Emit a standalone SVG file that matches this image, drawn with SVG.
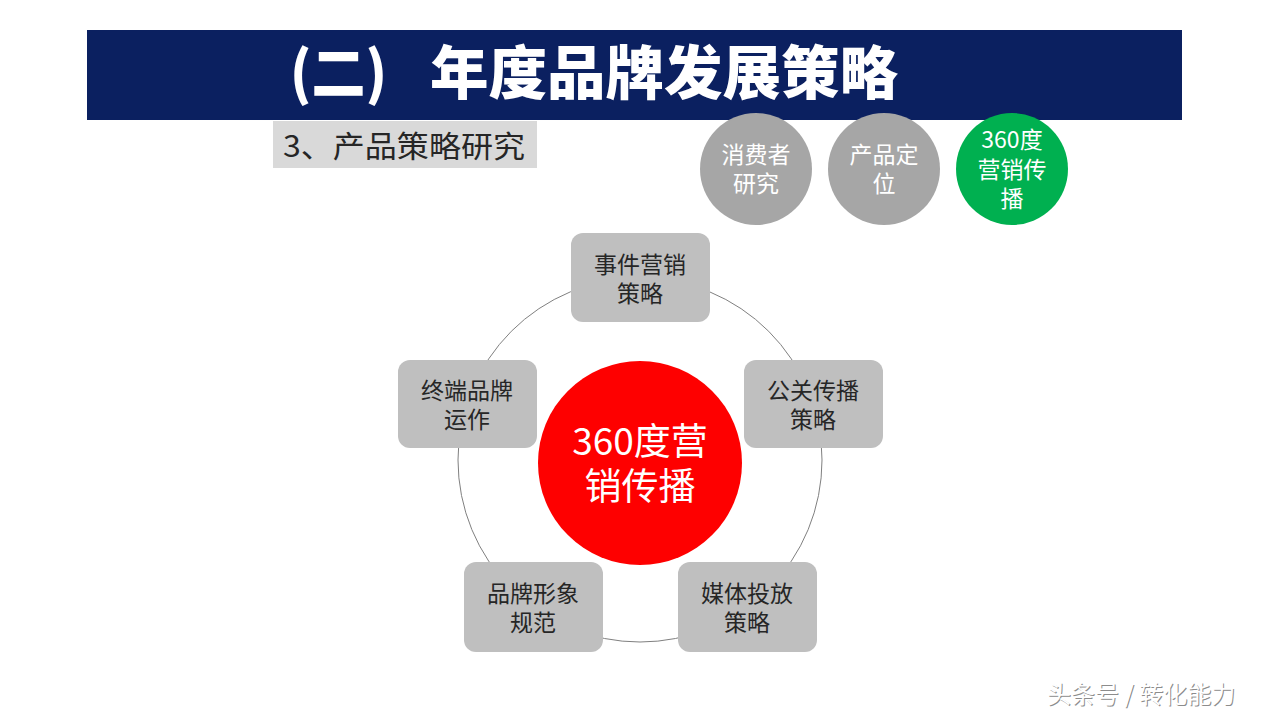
<svg xmlns="http://www.w3.org/2000/svg" width="1280" height="720" viewBox="0 0 1280 720">
<style>
.cjk{font-family:"Noto Sans CJK SC","Liberation Sans",sans-serif}
.box{fill:#bfbfbf}
.bt{font-size:23px;fill:#262626;text-anchor:middle}
.ct{font-size:23px;fill:#ffffff;text-anchor:middle}
.tt{font-size:58px;font-weight:900;fill:#ffffff}
</style>
<rect width="1280" height="720" fill="#ffffff"/>
<g id="header">
<rect x="87" y="30" width="1095" height="90" fill="#0b2060"/>
<text class="cjk tt" x="290" y="94" textLength="97" lengthAdjust="spacingAndGlyphs">(二)</text>
<text class="cjk tt" x="430" y="94" textLength="468" lengthAdjust="spacingAndGlyphs">年度品牌发展策略</text>
</g>
<g id="subtitle">
<rect x="273" y="121" width="264" height="47" fill="#d9d9d9"/>
<text class="cjk" x="283" y="157" font-size="30" fill="#262626" textLength="242" lengthAdjust="spacingAndGlyphs">3、产品策略研究</text>
</g>
<g id="step1">
<circle cx="756" cy="169" r="56" fill="#a6a6a6"/>
<text class="cjk ct" x="756" y="163">消费者</text>
<text class="cjk ct" x="756" y="192">研究</text>
</g>
<g id="step2">
<circle cx="884" cy="169" r="56" fill="#a6a6a6"/>
<text class="cjk ct" x="884" y="163">产品定</text>
<text class="cjk ct" x="884" y="192">位</text>
</g>
<g id="step3">
<circle cx="1012" cy="169" r="56" fill="#00b050"/>
<text class="cjk ct" x="1012" y="148">360度</text>
<text class="cjk ct" x="1012" y="178">营销传</text>
<text class="cjk ct" x="1012" y="207">播</text>
</g>
<g id="connectors">
<circle cx="640" cy="460" r="182" fill="none" stroke="#808080" stroke-width="1"/>
</g>
<g id="center">
<circle cx="640" cy="463" r="102" fill="#fe0000"/>
<text class="cjk" x="640" y="455" font-size="37" fill="#ffffff" text-anchor="middle">360度营</text>
<text class="cjk" x="640" y="500" font-size="37" fill="#ffffff" text-anchor="middle">销传播</text>
</g>
<g id="n-top">
<rect class="box" x="571" y="233" width="139" height="89" rx="12"/>
<text class="cjk bt" x="640" y="273">事件营销</text>
<text class="cjk bt" x="640" y="302">策略</text>
</g>
<g id="n-left">
<rect class="box" x="398" y="360" width="139" height="88" rx="12"/>
<text class="cjk bt" x="467" y="399">终端品牌</text>
<text class="cjk bt" x="467" y="428">运作</text>
</g>
<g id="n-right">
<rect class="box" x="744" y="360" width="139" height="88" rx="12"/>
<text class="cjk bt" x="813" y="399">公关传播</text>
<text class="cjk bt" x="813" y="428">策略</text>
</g>
<g id="n-bl">
<rect class="box" x="464" y="562" width="139" height="90" rx="12"/>
<text class="cjk bt" x="533" y="602">品牌形象</text>
<text class="cjk bt" x="533" y="631">规范</text>
</g>
<g id="n-br">
<rect class="box" x="678" y="562" width="139" height="90" rx="12"/>
<text class="cjk bt" x="747" y="602">媒体投放</text>
<text class="cjk bt" x="747" y="631">策略</text>
</g>
<g id="watermark">
<text class="cjk" x="1048" y="704" font-size="24" fill="#8c8c8c">头条号 / 转化能力</text>
<text class="cjk" x="1047" y="703" font-size="24" fill="#ffffff">头条号 / 转化能力</text>
</g>
</svg>
